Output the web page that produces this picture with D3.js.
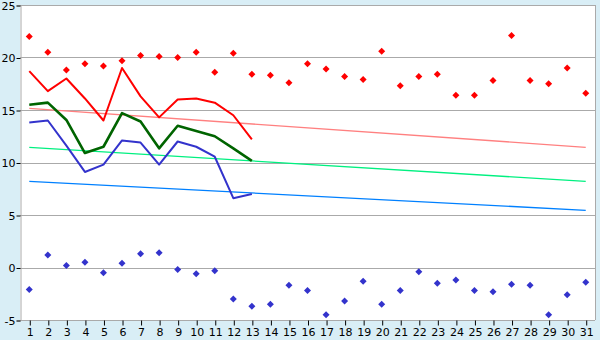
<!DOCTYPE html>
<html>
<head>
<meta charset="utf-8">
<script src="https://cdn.jsdelivr.net/npm/d3@7"></script>
<style>
  body { margin: 0; background: #d9eef6; }
  svg { display: block; }
  .tick text { font-family: "DejaVu Sans", Verdana, sans-serif; font-size: 11px; fill: #000; }
</style>
</head>
<body>
<div id="chart"></div>
<script>
// days of the month
const days = d3.range(1, 32);
// daily record max / min (diamonds)
const recMax = [22.0, 20.5, 18.8, 19.4, 19.2, 19.7, 20.2, 20.1, 20.0, 20.5, 18.6, 20.4, 18.4, 18.3, 17.6, 19.4,
                18.9, 18.2, 17.9, 20.6, 17.3, 18.2, 18.4, 16.4, 16.4, 17.8, 22.1, 17.8, 17.5, 19.0, 16.6];
const recMin = [-2.1, 1.2, 0.2, 0.5, -0.5, 0.4, 1.3, 1.4, -0.2, -0.6, -0.3, -3.0, -3.7, -3.5, -1.7, -2.2,
                -4.5, -3.2, -1.3, -3.5, -2.2, -0.4, -1.5, -1.2, -2.2, -2.3, -1.6, -1.7, -4.5, -2.6, -1.4];
// observed this month (days 1-13)
const obsMax = [18.7, 16.8, 18.0, 16.1, 14.0, 19.0, 16.3, 14.3, 16.0, 16.1, 15.7, 14.5, 12.2];
const obsMean = [15.5, 15.7, 14.05, 10.9, 11.5, 14.7, 13.9, 11.35, 13.5, 13.0, 12.5, 11.35, 10.15];
const obsMin = [13.8, 14.0, 11.6, 9.1, 9.8, 12.1, 11.9, 9.8, 12.0, 11.5, 10.55, 6.6, 7.0];
// normals, first and last day
const normDays = [1, 31];
const normMax = [15.15, 11.45];
const normMean = [11.45, 8.2];
const normMin = [8.2, 5.45];
const yTicks = [-5, 0, 5, 10, 15, 20, 25];

const W = 600, H = 340;
const mLeft = 20, mRight = 595, mTop = 5, mBottom = 320;

const svg = d3.select('#chart').append('svg')
  .attr('width', W).attr('height', H);

const x = d3.scaleLinear().domain([0.5, 31.5]).range([mLeft, mRight]);
const y = d3.scaleLinear().domain([-5, 25]).range([mBottom, mTop]);

// plot background
svg.append('rect')
  .attr('x', mLeft).attr('y', mTop)
  .attr('width', mRight - mLeft).attr('height', mBottom - mTop)
  .attr('fill', '#fff');

// grid
svg.append('g')
  .selectAll('line')
  .data(yTicks)
  .join('line')
  .attr('x1', mLeft).attr('x2', mRight)
  .attr('y1', d => Math.round(y(d)) + 0.5).attr('y2', d => Math.round(y(d)) + 0.5)
  .attr('stroke', '#aaa');

// right border
svg.append('line')
  .attr('x1', mRight + 0.5).attr('x2', mRight + 0.5)
  .attr('y1', mTop).attr('y2', mBottom)
  .attr('stroke', '#aaa');

// y axis
const yAxis = svg.append('g')
  .attr('transform', 'translate(' + (mLeft + 0.5) + ',0.5)')
  .call(d3.axisLeft(y).tickValues(yTicks).tickSize(4).tickPadding(1).tickFormat(d => String(d)));
yAxis.select('.domain').attr('stroke', '#aaa');
yAxis.selectAll('.tick line').attr('stroke', '#000');

// x axis
const xAxis = svg.append('g')
  .attr('transform', 'translate(0.5,' + (mBottom + 0.5) + ')')
  .call(d3.axisBottom(x).tickValues(days).tickSize(5).tickPadding(3));
xAxis.select('.domain').remove();
xAxis.selectAll('.tick line').attr('stroke', '#000');

// normals
const line2 = d3.line().x(d => x(d[0])).y(d => y(d[1]));
[[normMax, '#ff8080'], [normMean, '#00f080'], [normMin, '#0080ff']].forEach(([vals, col]) => {
  svg.append('path')
    .datum(normDays.map((d, i) => [d, vals[i]]))
    .attr('d', line2)
    .attr('fill', 'none')
    .attr('stroke', col)
    .attr('stroke-width', 1.3);
});

// observed lines
[[obsMax, '#ff0000', 2], [obsMean, '#006400', 2.6], [obsMin, '#3333cc', 2]].forEach(([vals, col, w]) => {
  svg.append('path')
    .datum(vals.map((v, i) => [days[i], v]))
    .attr('d', line2)
    .attr('fill', 'none')
    .attr('stroke', col)
    .attr('stroke-width', w)
    .attr('stroke-linejoin', 'round');
});

// record markers
const diamond = 'M0,-3.5L3.5,0L0,3.5L-3.5,0Z';
[[recMax, '#ff0000'], [recMin, '#3333cc']].forEach(([vals, col]) => {
  svg.append('g')
    .selectAll('path')
    .data(vals)
    .join('path')
    .attr('transform', (d, i) => 'translate(' + x(days[i]) + ',' + y(d) + ')')
    .attr('d', diamond)
    .attr('fill', col);
});
</script>
</body>
</html>
